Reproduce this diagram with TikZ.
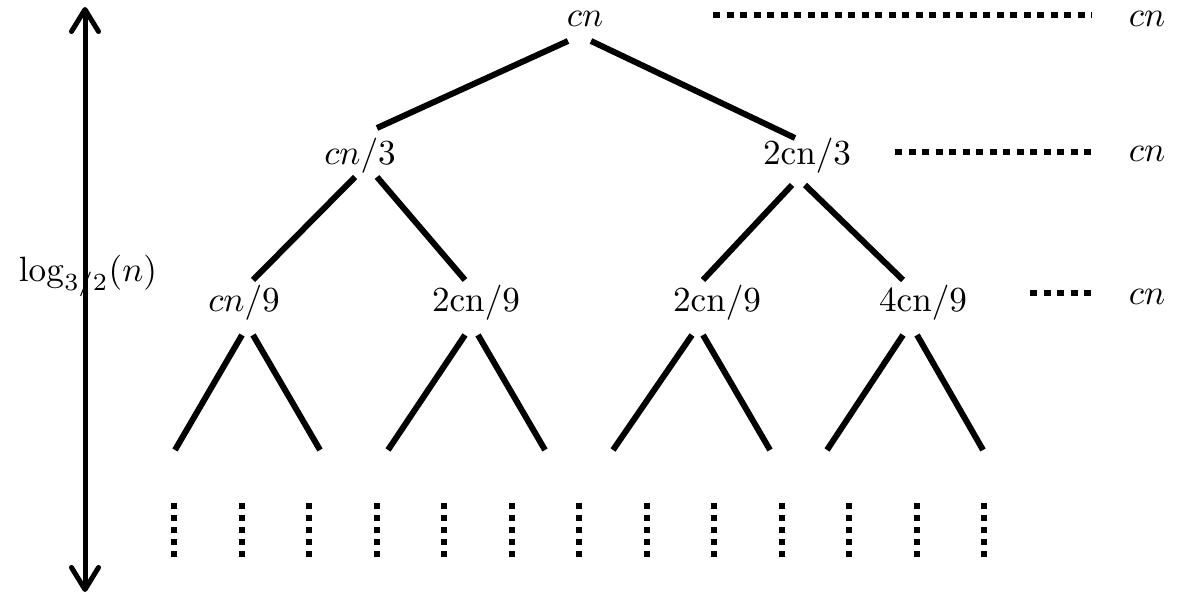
\documentclass[tikz,border=0pt]{standalone}
\usepackage{amsmath}
\usetikzlibrary{arrows.meta}

\begin{document}
\begin{tikzpicture}[x=0.01cm,y=-0.01cm,line cap=round,line join=round,
    >={Straight Barb[length=0.22cm,width=0.27cm,round]},
    lbl/.style={anchor=base,inner sep=0pt},
    branch/.style={line width=0.06cm,line cap=butt},
    hdots/.style={line width=0.06cm,line cap=butt,dash pattern=on 0.07cm off 0.065cm},
    vdots/.style={line width=0.06cm,line cap=butt,dash pattern=on 0.06cm off 0.06cm}]
    \useasboundingbox (0,0) rectangle (1177,598);
    % tree labels
    \node[lbl] (root) at (585,27) {$cn$};
    \node[lbl] (a) at (360,165) {$cn/3$};
    \node[lbl] (b) at (807,165) {$2\mathrm{cn}/3$};
    \node[lbl] (aa) at (244,312) {$cn/9$};
    \node[lbl] (ab) at (476,312) {$2\mathrm{cn}/9$};
    \node[lbl] (ba) at (717,312) {$2\mathrm{cn}/9$};
    \node[lbl] (bb) at (923,312) {$4\mathrm{cn}/9$};
    % level sums
    \node[lbl] (r0) at (1147,27) {$cn$};
    \node[lbl] (r1) at (1147,162) {$cn$};
    \node[lbl] (r2) at (1147,305) {$cn$};
    % height
    \node[lbl] (height) at (88,282) {$\log_{3/2}(n)$};
    \coordinate (top) at (85,7);
    \coordinate (bot) at (85,592);
    \draw [<->,line width=0.05cm] (top) -- (bot);
    % leaves
    \coordinate (l1) at (175,450);
    \coordinate (l2) at (320,450);
    \coordinate (l3) at (388,450);
    \coordinate (l4) at (545,450);
    \coordinate (l5) at (613,450);
    \coordinate (l6) at (770,450);
    \coordinate (l7) at (827,450);
    \coordinate (l8) at (983,450);
    % branches
    \draw [branch] ([shift={(-17,14)}]root.base) -- ([shift={(17,-37)}]a.base);
    \draw [branch] ([shift={(6,14)}]root.base) -- ([shift={(-12,-27)}]b.base);
    \draw [branch] ([shift={(-5,12)}]a.base) -- ([shift={(9,-32)}]aa.base);
    \draw [branch] ([shift={(17,12)}]a.base) -- ([shift={(-11,-32)}]ab.base);
    \draw [branch] ([shift={(-15,20)}]b.base) -- ([shift={(-14,-32)}]ba.base);
    \draw [branch] ([shift={(-2,20)}]b.base) -- ([shift={(-20,-32)}]bb.base);
    \draw [branch] ([shift={(-2,23)}]aa.base) -- (l1);
    \draw [branch] ([shift={(9,23)}]aa.base) -- (l2);
    \draw [branch] ([shift={(-11,23)}]ab.base) -- (l3);
    \draw [branch] ([shift={(2,23)}]ab.base) -- (l4);
    \draw [branch] ([shift={(-25,23)}]ba.base) -- (l5);
    \draw [branch] ([shift={(-14,23)}]ba.base) -- (l6);
    \draw [branch] ([shift={(-20,23)}]bb.base) -- (l7);
    \draw [branch] ([shift={(-6,23)}]bb.base) -- (l8);
    % dotted lines to the sums
    \draw [hdots] ([shift={(128,-12)}]root.base) -- ([shift={(-55,-12)}]r0.base);
    \draw [hdots] ([shift={(88,-13)}]b.base) -- ([shift={(-55,-10)}]r1.base);
    \draw [hdots] ([shift={(107,-19)}]bb.base) -- ([shift={(-52,-12)}]r2.base);
    \foreach \i in {0,...,12}
        \draw [vdots] (174+67.5*\i,503) -- (174+67.5*\i,557);
\end{tikzpicture}
\end{document}
